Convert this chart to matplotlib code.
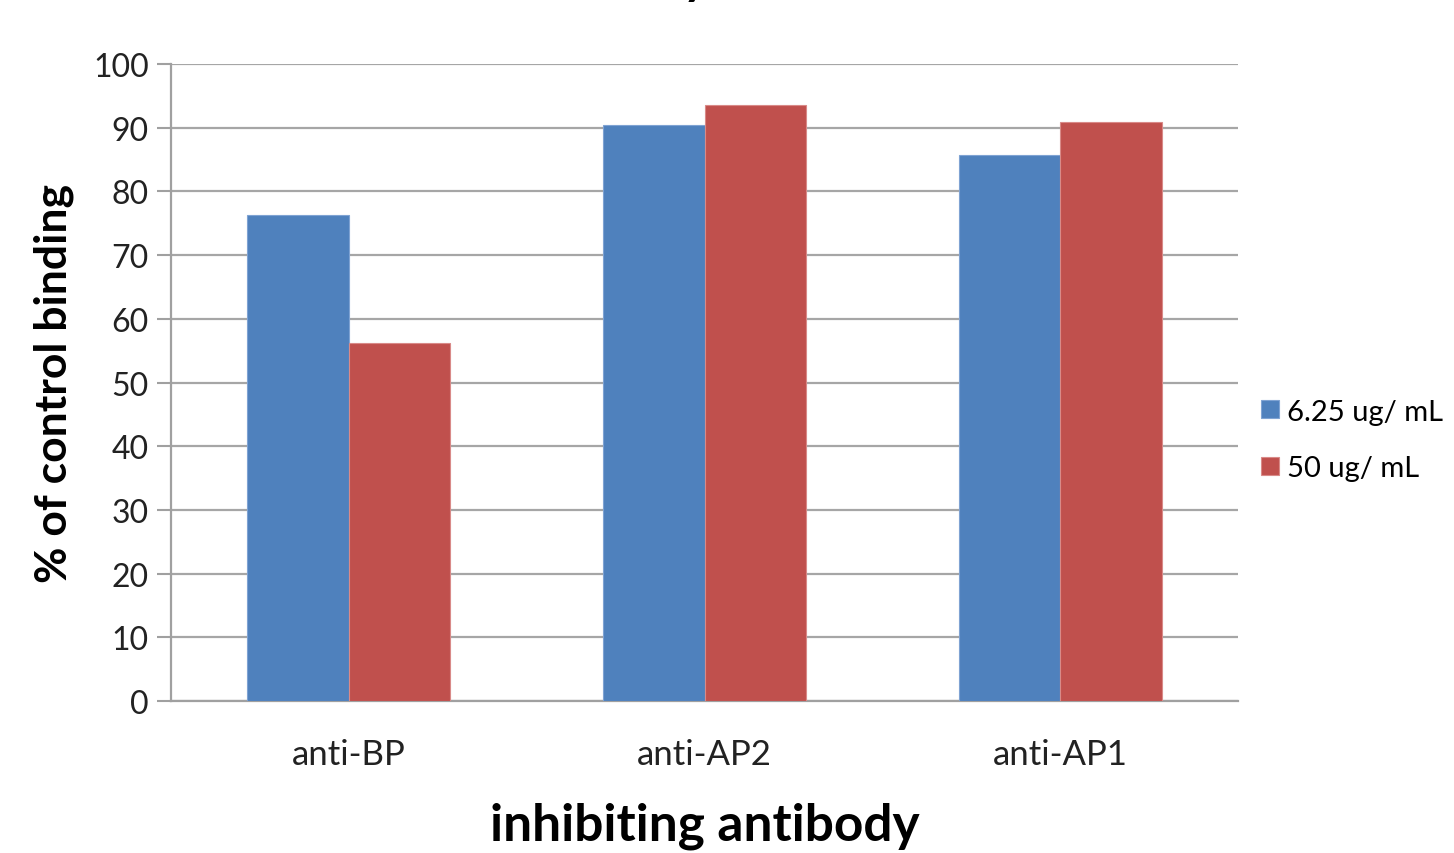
import matplotlib
matplotlib.use("Agg")
import matplotlib.pyplot as plt
import numpy as np

categories = ["anti-BP", "anti-AP2", "anti-AP1"]
series_names = ["6.25 ug/ mL", "50 ug/ mL"]
low_dose = [76.3, 90.4, 85.7]
high_dose = [56.2, 93.6, 90.9]
yticks = [0, 10, 20, 30, 40, 50, 60, 70, 80, 90, 100]

plt.rcParams['font.family'] = ['Lato', 'DejaVu Sans']

fig = plt.figure(figsize=(14.54, 8.54), dpi=100)
ax = fig.add_axes([171/1454, 1-702/854, (1238-171)/1454, (702-65)/854])

x = np.arange(len(categories))
w = 1/3.5
ax.bar(x - w/2, low_dose, width=w, color="#4F81BD", edgecolor="#7FA3D3", linewidth=0.8, label=series_names[0], zorder=3)
ax.bar(x + w/2, high_dose, width=w, color="#C0504D", edgecolor="#D98A88", linewidth=0.8, label=series_names[1], zorder=3)

ax.set_xlim(-0.5, 2.5)
ax.set_ylim(0, 100)
ax.set_yticks(yticks)
ax.set_xticks(x)
ax.set_xticklabels(categories, fontsize=25, color="#222222")
ax.tick_params(axis='x', length=0, pad=27)
ax.tick_params(axis='y', length=10, width=1.5, color="#A0A0A0", labelsize=23, labelcolor="#222222", pad=6)
ax.grid(axis='y', color="#A6A6A6", linewidth=1.6, zorder=0)
for s in ["top", "right"]:
    ax.spines[s].set_visible(False)
for s in ["left", "bottom"]:
    ax.spines[s].set_color("#A0A0A0")
    ax.spines[s].set_linewidth(1.6)

ax.set_ylabel("% of control binding", fontsize=32, fontweight='bold', labelpad=14)
ax.set_xlabel("inhibiting antibody", fontsize=37, fontweight='bold', labelpad=22)

leg = ax.legend(loc='center left', bbox_to_anchor=(0.997, 0.41), frameon=False,
                fontsize=21, handlelength=0.6, handleheight=0.6, handletextpad=0.3,
                labelspacing=1.05)

# only the descender of the (cut-off) title is visible at the top edge
fig.text(695/1454, 1 + 6/854, "y", fontsize=34, fontweight='bold', ha='center', va='baseline', color="black")

fig.savefig("out.png", dpi=100)
